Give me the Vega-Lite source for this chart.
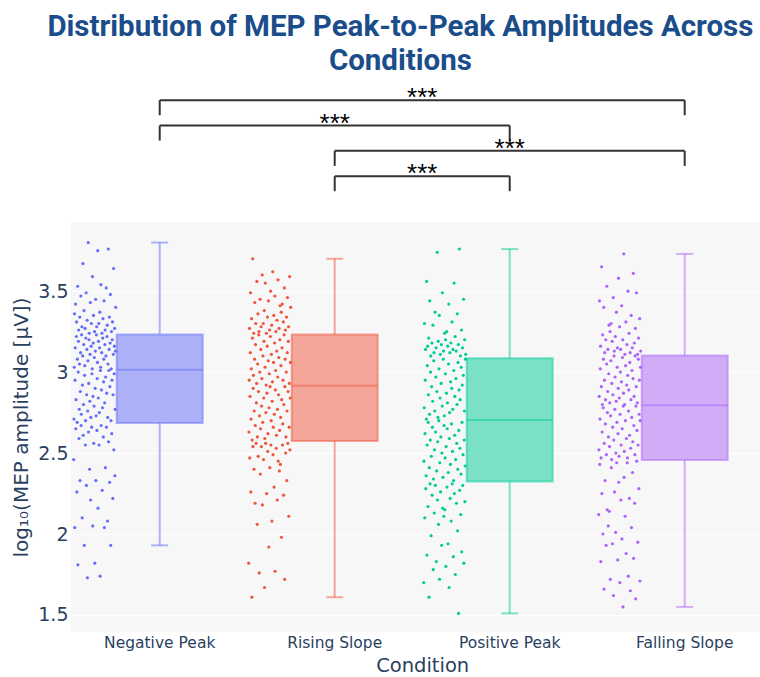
{
"$schema": "https://vega.github.io/schema/vega-lite/v6.json",
"padding": {"left": 11, "top": 11, "right": 0, "bottom": 0},
"title": {"text": ["Distribution of MEP Peak-to-Peak Amplitudes Across", "Conditions"], "font": "Roboto", "fontSize": 29.5, "fontWeight": "bold", "color": "#1a4d8a", "lineHeight": 34, "anchor": "middle", "dx": 9, "offset": 9},
"config": {"view": {"stroke": null}, "font": "DejaVu Sans", "concat": {"spacing": 27}},
"datasets": {
"conditions": [{"cond":"Negative Peak","order":0},{"cond":"Rising Slope","order":1},{"cond":"Positive Peak","order":2},{"cond":"Falling Slope","order":3}],
"brackets": [
{"from":"Negative Peak","to":"Falling Slope","level":1,"label":"***"},
{"from":"Negative Peak","to":"Positive Peak","level":2,"label":"***"},
{"from":"Rising Slope","to":"Falling Slope","level":3,"label":"***"},
{"from":"Rising Slope","to":"Positive Peak","level":4,"label":"***"}],
"trials": [
{"cond":"Negative Peak","val":2.46},{"cond":"Negative Peak","val":2.71},{"cond":"Negative Peak","val":3.03},{"cond":"Negative Peak","val":3.36},
{"cond":"Negative Peak","val":2.04},{"cond":"Negative Peak","val":2.95},{"cond":"Negative Peak","val":3.15},{"cond":"Negative Peak","val":3.42},
{"cond":"Negative Peak","val":2.65},{"cond":"Negative Peak","val":2.83},{"cond":"Negative Peak","val":3.22},{"cond":"Negative Peak","val":3.31},
{"cond":"Negative Peak","val":2.26},{"cond":"Negative Peak","val":2.69},{"cond":"Negative Peak","val":3.08},{"cond":"Negative Peak","val":3.53},
{"cond":"Negative Peak","val":1.81},{"cond":"Negative Peak","val":3.00},{"cond":"Negative Peak","val":3.19},{"cond":"Negative Peak","val":3.26},
{"cond":"Negative Peak","val":2.59},{"cond":"Negative Peak","val":2.77},{"cond":"Negative Peak","val":3.05},{"cond":"Negative Peak","val":3.34},
{"cond":"Negative Peak","val":2.33},{"cond":"Negative Peak","val":2.88},{"cond":"Negative Peak","val":3.12},{"cond":"Negative Peak","val":3.47},
{"cond":"Negative Peak","val":2.67},{"cond":"Negative Peak","val":2.74},{"cond":"Negative Peak","val":3.23},{"cond":"Negative Peak","val":3.28},
{"cond":"Negative Peak","val":2.10},{"cond":"Negative Peak","val":2.92},{"cond":"Negative Peak","val":3.10},{"cond":"Negative Peak","val":3.67},
{"cond":"Negative Peak","val":2.61},{"cond":"Negative Peak","val":2.80},{"cond":"Negative Peak","val":3.17},{"cond":"Negative Peak","val":3.38},
{"cond":"Negative Peak","val":1.93},{"cond":"Negative Peak","val":2.98},{"cond":"Negative Peak","val":3.04},{"cond":"Negative Peak","val":3.27},
{"cond":"Negative Peak","val":2.55},{"cond":"Negative Peak","val":2.70},{"cond":"Negative Peak","val":3.21},{"cond":"Negative Peak","val":3.49},
{"cond":"Negative Peak","val":2.30},{"cond":"Negative Peak","val":2.86},{"cond":"Negative Peak","val":3.14},{"cond":"Negative Peak","val":3.32},
{"cond":"Negative Peak","val":1.73},{"cond":"Negative Peak","val":2.76},{"cond":"Negative Peak","val":3.07},{"cond":"Negative Peak","val":3.80},
{"cond":"Negative Peak","val":2.63},{"cond":"Negative Peak","val":2.93},{"cond":"Negative Peak","val":3.20},{"cond":"Negative Peak","val":3.24},
{"cond":"Negative Peak","val":2.40},{"cond":"Negative Peak","val":2.82},{"cond":"Negative Peak","val":3.11},{"cond":"Negative Peak","val":3.43},
{"cond":"Negative Peak","val":2.21},{"cond":"Negative Peak","val":2.72},{"cond":"Negative Peak","val":3.16},{"cond":"Negative Peak","val":3.30},
{"cond":"Negative Peak","val":2.66},{"cond":"Negative Peak","val":2.99},{"cond":"Negative Peak","val":3.02},{"cond":"Negative Peak","val":3.59},
{"cond":"Negative Peak","val":2.05},{"cond":"Negative Peak","val":2.85},{"cond":"Negative Peak","val":3.18},{"cond":"Negative Peak","val":3.35},
{"cond":"Negative Peak","val":2.56},{"cond":"Negative Peak","val":2.79},{"cond":"Negative Peak","val":3.09},{"cond":"Negative Peak","val":3.25},
{"cond":"Negative Peak","val":1.82},{"cond":"Negative Peak","val":2.90},{"cond":"Negative Peak","val":3.13},{"cond":"Negative Peak","val":3.45},
{"cond":"Negative Peak","val":2.33},{"cond":"Negative Peak","val":2.73},{"cond":"Negative Peak","val":3.23},{"cond":"Negative Peak","val":3.28},
{"cond":"Negative Peak","val":2.64},{"cond":"Negative Peak","val":2.96},{"cond":"Negative Peak","val":3.06},{"cond":"Negative Peak","val":3.75},
{"cond":"Negative Peak","val":2.16},{"cond":"Negative Peak","val":2.84},{"cond":"Negative Peak","val":3.19},{"cond":"Negative Peak","val":3.30},
{"cond":"Negative Peak","val":2.55},{"cond":"Negative Peak","val":2.75},{"cond":"Negative Peak","val":3.15},{"cond":"Negative Peak","val":3.37},
{"cond":"Negative Peak","val":1.74},{"cond":"Negative Peak","val":3.01},{"cond":"Negative Peak","val":3.03},{"cond":"Negative Peak","val":3.54},
{"cond":"Negative Peak","val":2.67},{"cond":"Negative Peak","val":2.89},{"cond":"Negative Peak","val":3.12},{"cond":"Negative Peak","val":3.24},
{"cond":"Negative Peak","val":2.27},{"cond":"Negative Peak","val":2.78},{"cond":"Negative Peak","val":3.21},{"cond":"Negative Peak","val":3.33},
{"cond":"Negative Peak","val":2.60},{"cond":"Negative Peak","val":2.94},{"cond":"Negative Peak","val":3.08},{"cond":"Negative Peak","val":3.44},
{"cond":"Negative Peak","val":2.04},{"cond":"Negative Peak","val":2.81},{"cond":"Negative Peak","val":3.17},{"cond":"Negative Peak","val":3.26},
{"cond":"Negative Peak","val":2.41},{"cond":"Negative Peak","val":2.97},{"cond":"Negative Peak","val":3.10},{"cond":"Negative Peak","val":3.52},
{"cond":"Negative Peak","val":2.66},{"cond":"Negative Peak","val":2.87},{"cond":"Negative Peak","val":3.22},{"cond":"Negative Peak","val":3.29},
{"cond":"Negative Peak","val":2.08},{"cond":"Negative Peak","val":2.72},{"cond":"Negative Peak","val":3.05},{"cond":"Negative Peak","val":3.76},
{"cond":"Negative Peak","val":2.57},{"cond":"Negative Peak","val":3.01},{"cond":"Negative Peak","val":3.14},{"cond":"Negative Peak","val":3.34},
{"cond":"Negative Peak","val":2.32},{"cond":"Negative Peak","val":2.91},{"cond":"Negative Peak","val":3.18},{"cond":"Negative Peak","val":3.48},
{"cond":"Negative Peak","val":1.93},{"cond":"Negative Peak","val":2.70},{"cond":"Negative Peak","val":3.02},{"cond":"Negative Peak","val":3.25},
{"cond":"Negative Peak","val":2.62},{"cond":"Negative Peak","val":2.95},{"cond":"Negative Peak","val":3.20},{"cond":"Negative Peak","val":3.31},
{"cond":"Negative Peak","val":2.22},{"cond":"Negative Peak","val":2.86},{"cond":"Negative Peak","val":3.11},{"cond":"Negative Peak","val":3.64},
{"cond":"Negative Peak","val":2.52},{"cond":"Negative Peak","val":2.99},{"cond":"Negative Peak","val":3.16},{"cond":"Negative Peak","val":3.27},
{"cond":"Negative Peak","val":2.36},{"cond":"Negative Peak","val":2.77},{"cond":"Negative Peak","val":3.13},{"cond":"Negative Peak","val":3.40},
{"cond":"Rising Slope","val":1.82},{"cond":"Rising Slope","val":2.63},{"cond":"Rising Slope","val":2.95},{"cond":"Rising Slope","val":3.27},
{"cond":"Rising Slope","val":2.47},{"cond":"Rising Slope","val":2.85},{"cond":"Rising Slope","val":3.12},{"cond":"Rising Slope","val":3.49},
{"cond":"Rising Slope","val":2.26},{"cond":"Rising Slope","val":2.71},{"cond":"Rising Slope","val":3.02},{"cond":"Rising Slope","val":3.33},
{"cond":"Rising Slope","val":1.61},{"cond":"Rising Slope","val":2.58},{"cond":"Rising Slope","val":3.21},{"cond":"Rising Slope","val":3.70},
{"cond":"Rising Slope","val":2.54},{"cond":"Rising Slope","val":2.90},{"cond":"Rising Slope","val":2.98},{"cond":"Rising Slope","val":3.24},
{"cond":"Rising Slope","val":2.40},{"cond":"Rising Slope","val":2.76},{"cond":"Rising Slope","val":3.08},{"cond":"Rising Slope","val":3.43},
{"cond":"Rising Slope","val":2.19},{"cond":"Rising Slope","val":2.67},{"cond":"Rising Slope","val":3.17},{"cond":"Rising Slope","val":3.30},
{"cond":"Rising Slope","val":2.56},{"cond":"Rising Slope","val":2.81},{"cond":"Rising Slope","val":2.93},{"cond":"Rising Slope","val":3.56},
{"cond":"Rising Slope","val":2.06},{"cond":"Rising Slope","val":2.60},{"cond":"Rising Slope","val":3.05},{"cond":"Rising Slope","val":3.36},
{"cond":"Rising Slope","val":2.48},{"cond":"Rising Slope","val":2.88},{"cond":"Rising Slope","val":3.23},{"cond":"Rising Slope","val":3.25},
{"cond":"Rising Slope","val":1.76},{"cond":"Rising Slope","val":2.73},{"cond":"Rising Slope","val":3.00},{"cond":"Rising Slope","val":3.45},
{"cond":"Rising Slope","val":2.37},{"cond":"Rising Slope","val":2.65},{"cond":"Rising Slope","val":3.14},{"cond":"Rising Slope","val":3.28},
{"cond":"Rising Slope","val":2.54},{"cond":"Rising Slope","val":2.79},{"cond":"Rising Slope","val":2.96},{"cond":"Rising Slope","val":3.60},
{"cond":"Rising Slope","val":2.18},{"cond":"Rising Slope","val":2.69},{"cond":"Rising Slope","val":3.10},{"cond":"Rising Slope","val":3.30},
{"cond":"Rising Slope","val":2.46},{"cond":"Rising Slope","val":2.84},{"cond":"Rising Slope","val":3.19},{"cond":"Rising Slope","val":3.38},
{"cond":"Rising Slope","val":1.67},{"cond":"Rising Slope","val":2.59},{"cond":"Rising Slope","val":3.03},{"cond":"Rising Slope","val":3.55},
{"cond":"Rising Slope","val":2.56},{"cond":"Rising Slope","val":2.75},{"cond":"Rising Slope","val":2.92},{"cond":"Rising Slope","val":3.24},
{"cond":"Rising Slope","val":2.25},{"cond":"Rising Slope","val":2.87},{"cond":"Rising Slope","val":3.16},{"cond":"Rising Slope","val":3.34},
{"cond":"Rising Slope","val":2.51},{"cond":"Rising Slope","val":2.62},{"cond":"Rising Slope","val":3.07},{"cond":"Rising Slope","val":3.44},
{"cond":"Rising Slope","val":1.92},{"cond":"Rising Slope","val":2.78},{"cond":"Rising Slope","val":2.99},{"cond":"Rising Slope","val":3.26},
{"cond":"Rising Slope","val":2.41},{"cond":"Rising Slope","val":2.91},{"cond":"Rising Slope","val":3.22},{"cond":"Rising Slope","val":3.50},
{"cond":"Rising Slope","val":2.55},{"cond":"Rising Slope","val":2.70},{"cond":"Rising Slope","val":3.11},{"cond":"Rising Slope","val":3.29},
{"cond":"Rising Slope","val":2.08},{"cond":"Rising Slope","val":2.82},{"cond":"Rising Slope","val":2.94},{"cond":"Rising Slope","val":3.62},
{"cond":"Rising Slope","val":2.49},{"cond":"Rising Slope","val":2.66},{"cond":"Rising Slope","val":3.06},{"cond":"Rising Slope","val":3.35},
{"cond":"Rising Slope","val":2.29},{"cond":"Rising Slope","val":2.74},{"cond":"Rising Slope","val":3.18},{"cond":"Rising Slope","val":3.47},
{"cond":"Rising Slope","val":1.77},{"cond":"Rising Slope","val":2.89},{"cond":"Rising Slope","val":3.01},{"cond":"Rising Slope","val":3.25},
{"cond":"Rising Slope","val":2.53},{"cond":"Rising Slope","val":2.61},{"cond":"Rising Slope","val":3.13},{"cond":"Rising Slope","val":3.32},
{"cond":"Rising Slope","val":2.21},{"cond":"Rising Slope","val":2.77},{"cond":"Rising Slope","val":2.97},{"cond":"Rising Slope","val":3.57},
{"cond":"Rising Slope","val":2.45},{"cond":"Rising Slope","val":2.86},{"cond":"Rising Slope","val":3.09},{"cond":"Rising Slope","val":3.27},
{"cond":"Rising Slope","val":2.39},{"cond":"Rising Slope","val":2.64},{"cond":"Rising Slope","val":3.20},{"cond":"Rising Slope","val":3.41},
{"cond":"Rising Slope","val":2.43},{"cond":"Rising Slope","val":2.72},{"cond":"Rising Slope","val":3.04},{"cond":"Rising Slope","val":3.37},
{"cond":"Rising Slope","val":1.98},{"cond":"Rising Slope","val":2.83},{"cond":"Rising Slope","val":3.15},{"cond":"Rising Slope","val":3.42},
{"cond":"Rising Slope","val":2.55},{"cond":"Rising Slope","val":2.68},{"cond":"Rising Slope","val":2.95},{"cond":"Rising Slope","val":3.31},
{"cond":"Rising Slope","val":2.24},{"cond":"Rising Slope","val":2.80},{"cond":"Rising Slope","val":3.23},{"cond":"Rising Slope","val":3.52},
{"cond":"Rising Slope","val":1.72},{"cond":"Rising Slope","val":2.91},{"cond":"Rising Slope","val":3.08},{"cond":"Rising Slope","val":3.26},
{"cond":"Rising Slope","val":2.50},{"cond":"Rising Slope","val":2.60},{"cond":"Rising Slope","val":3.00},{"cond":"Rising Slope","val":3.34},
{"cond":"Rising Slope","val":2.33},{"cond":"Rising Slope","val":2.76},{"cond":"Rising Slope","val":3.12},{"cond":"Rising Slope","val":3.46},
{"cond":"Rising Slope","val":2.56},{"cond":"Rising Slope","val":2.88},{"cond":"Rising Slope","val":3.19},{"cond":"Rising Slope","val":3.28},
{"cond":"Rising Slope","val":2.11},{"cond":"Rising Slope","val":2.66},{"cond":"Rising Slope","val":2.93},{"cond":"Rising Slope","val":3.59},
{"cond":"Rising Slope","val":2.52},{"cond":"Rising Slope","val":2.84},{"cond":"Rising Slope","val":3.06},{"cond":"Rising Slope","val":3.40},
{"cond":"Positive Peak","val":1.70},{"cond":"Positive Peak","val":2.45},{"cond":"Positive Peak","val":2.78},{"cond":"Positive Peak","val":3.30},
{"cond":"Positive Peak","val":2.10},{"cond":"Positive Peak","val":2.62},{"cond":"Positive Peak","val":2.95},{"cond":"Positive Peak","val":3.14},
{"cond":"Positive Peak","val":2.28},{"cond":"Positive Peak","val":2.36},{"cond":"Positive Peak","val":2.71},{"cond":"Positive Peak","val":3.56},
{"cond":"Positive Peak","val":1.87},{"cond":"Positive Peak","val":2.55},{"cond":"Positive Peak","val":3.04},{"cond":"Positive Peak","val":3.16},
{"cond":"Positive Peak","val":2.17},{"cond":"Positive Peak","val":2.69},{"cond":"Positive Peak","val":2.86},{"cond":"Positive Peak","val":3.21},
{"cond":"Positive Peak","val":1.61},{"cond":"Positive Peak","val":2.41},{"cond":"Positive Peak","val":2.74},{"cond":"Positive Peak","val":3.44},
{"cond":"Positive Peak","val":2.31},{"cond":"Positive Peak","val":2.58},{"cond":"Positive Peak","val":3.00},{"cond":"Positive Peak","val":3.10},
{"cond":"Positive Peak","val":1.99},{"cond":"Positive Peak","val":2.48},{"cond":"Positive Peak","val":2.91},{"cond":"Positive Peak","val":3.18},
{"cond":"Positive Peak","val":2.24},{"cond":"Positive Peak","val":2.66},{"cond":"Positive Peak","val":2.82},{"cond":"Positive Peak","val":3.29},
{"cond":"Positive Peak","val":1.78},{"cond":"Positive Peak","val":2.34},{"cond":"Positive Peak","val":3.07},{"cond":"Positive Peak","val":3.12},
{"cond":"Positive Peak","val":2.13},{"cond":"Positive Peak","val":2.52},{"cond":"Positive Peak","val":2.76},{"cond":"Positive Peak","val":3.37},
{"cond":"Positive Peak","val":2.30},{"cond":"Positive Peak","val":2.63},{"cond":"Positive Peak","val":2.97},{"cond":"Positive Peak","val":3.15},
{"cond":"Positive Peak","val":1.83},{"cond":"Positive Peak","val":2.39},{"cond":"Positive Peak","val":2.88},{"cond":"Positive Peak","val":3.74},
{"cond":"Positive Peak","val":2.21},{"cond":"Positive Peak","val":2.57},{"cond":"Positive Peak","val":2.72},{"cond":"Positive Peak","val":3.19},
{"cond":"Positive Peak","val":2.06},{"cond":"Positive Peak","val":2.70},{"cond":"Positive Peak","val":3.02},{"cond":"Positive Peak","val":3.35},
{"cond":"Positive Peak","val":1.72},{"cond":"Positive Peak","val":2.44},{"cond":"Positive Peak","val":2.84},{"cond":"Positive Peak","val":3.11},
{"cond":"Positive Peak","val":2.26},{"cond":"Positive Peak","val":2.60},{"cond":"Positive Peak","val":2.93},{"cond":"Positive Peak","val":3.17},
{"cond":"Positive Peak","val":1.93},{"cond":"Positive Peak","val":2.50},{"cond":"Positive Peak","val":2.79},{"cond":"Positive Peak","val":3.49},
{"cond":"Positive Peak","val":2.16},{"cond":"Positive Peak","val":2.35},{"cond":"Positive Peak","val":3.08},{"cond":"Positive Peak","val":3.13},
{"cond":"Positive Peak","val":2.11},{"cond":"Positive Peak","val":2.67},{"cond":"Positive Peak","val":2.73},{"cond":"Positive Peak","val":3.24},
{"cond":"Positive Peak","val":2.15},{"cond":"Positive Peak","val":2.47},{"cond":"Positive Peak","val":2.99},{"cond":"Positive Peak","val":3.20},
{"cond":"Positive Peak","val":1.80},{"cond":"Positive Peak","val":2.54},{"cond":"Positive Peak","val":2.87},{"cond":"Positive Peak","val":3.25},
{"cond":"Positive Peak","val":2.29},{"cond":"Positive Peak","val":2.65},{"cond":"Positive Peak","val":2.81},{"cond":"Positive Peak","val":3.16},
{"cond":"Positive Peak","val":1.94},{"cond":"Positive Peak","val":2.38},{"cond":"Positive Peak","val":3.05},{"cond":"Positive Peak","val":3.42},
{"cond":"Positive Peak","val":1.67},{"cond":"Positive Peak","val":2.59},{"cond":"Positive Peak","val":2.75},{"cond":"Positive Peak","val":3.12},
{"cond":"Positive Peak","val":2.22},{"cond":"Positive Peak","val":2.43},{"cond":"Positive Peak","val":2.94},{"cond":"Positive Peak","val":3.18},
{"cond":"Positive Peak","val":2.08},{"cond":"Positive Peak","val":2.68},{"cond":"Positive Peak","val":2.90},{"cond":"Positive Peak","val":3.31},
{"cond":"Positive Peak","val":2.31},{"cond":"Positive Peak","val":2.51},{"cond":"Positive Peak","val":2.77},{"cond":"Positive Peak","val":3.14},
{"cond":"Positive Peak","val":1.86},{"cond":"Positive Peak","val":2.33},{"cond":"Positive Peak","val":3.01},{"cond":"Positive Peak","val":3.55},
{"cond":"Positive Peak","val":2.25},{"cond":"Positive Peak","val":2.61},{"cond":"Positive Peak","val":2.85},{"cond":"Positive Peak","val":3.22},
{"cond":"Positive Peak","val":1.75},{"cond":"Positive Peak","val":2.46},{"cond":"Positive Peak","val":2.96},{"cond":"Positive Peak","val":3.13},
{"cond":"Positive Peak","val":2.19},{"cond":"Positive Peak","val":2.56},{"cond":"Positive Peak","val":2.80},{"cond":"Positive Peak","val":3.36},
{"cond":"Positive Peak","val":2.02},{"cond":"Positive Peak","val":2.40},{"cond":"Positive Peak","val":3.06},{"cond":"Positive Peak","val":3.17},
{"cond":"Positive Peak","val":1.51},{"cond":"Positive Peak","val":2.64},{"cond":"Positive Peak","val":2.89},{"cond":"Positive Peak","val":3.76},
{"cond":"Positive Peak","val":2.27},{"cond":"Positive Peak","val":2.53},{"cond":"Positive Peak","val":2.83},{"cond":"Positive Peak","val":3.10},
{"cond":"Positive Peak","val":2.12},{"cond":"Positive Peak","val":2.37},{"cond":"Positive Peak","val":3.03},{"cond":"Positive Peak","val":3.26},
{"cond":"Positive Peak","val":1.89},{"cond":"Positive Peak","val":2.69},{"cond":"Positive Peak","val":2.92},{"cond":"Positive Peak","val":3.15},
{"cond":"Positive Peak","val":2.30},{"cond":"Positive Peak","val":2.49},{"cond":"Positive Peak","val":2.98},{"cond":"Positive Peak","val":3.45},
{"cond":"Positive Peak","val":1.82},{"cond":"Positive Peak","val":2.58},{"cond":"Positive Peak","val":2.76},{"cond":"Positive Peak","val":3.20},
{"cond":"Positive Peak","val":2.20},{"cond":"Positive Peak","val":2.42},{"cond":"Positive Peak","val":3.08},{"cond":"Positive Peak","val":3.11},
{"cond":"Falling Slope","val":2.12},{"cond":"Falling Slope","val":2.52},{"cond":"Falling Slope","val":2.85},{"cond":"Falling Slope","val":3.44},
{"cond":"Falling Slope","val":2.43},{"cond":"Falling Slope","val":2.71},{"cond":"Falling Slope","val":3.02},{"cond":"Falling Slope","val":3.16},
{"cond":"Falling Slope","val":1.83},{"cond":"Falling Slope","val":2.47},{"cond":"Falling Slope","val":2.91},{"cond":"Falling Slope","val":3.65},
{"cond":"Falling Slope","val":2.25},{"cond":"Falling Slope","val":2.63},{"cond":"Falling Slope","val":2.80},{"cond":"Falling Slope","val":3.23},
{"cond":"Falling Slope","val":2.00},{"cond":"Falling Slope","val":2.78},{"cond":"Falling Slope","val":3.08},{"cond":"Falling Slope","val":3.40},
{"cond":"Falling Slope","val":1.66},{"cond":"Falling Slope","val":2.56},{"cond":"Falling Slope","val":2.95},{"cond":"Falling Slope","val":3.12},
{"cond":"Falling Slope","val":2.33},{"cond":"Falling Slope","val":2.68},{"cond":"Falling Slope","val":2.83},{"cond":"Falling Slope","val":3.20},
{"cond":"Falling Slope","val":1.93},{"cond":"Falling Slope","val":2.49},{"cond":"Falling Slope","val":3.05},{"cond":"Falling Slope","val":3.53},
{"cond":"Falling Slope","val":2.15},{"cond":"Falling Slope","val":2.75},{"cond":"Falling Slope","val":2.88},{"cond":"Falling Slope","val":3.14},
{"cond":"Falling Slope","val":2.05},{"cond":"Falling Slope","val":2.60},{"cond":"Falling Slope","val":2.99},{"cond":"Falling Slope","val":3.29},
{"cond":"Falling Slope","val":2.14},{"cond":"Falling Slope","val":2.54},{"cond":"Falling Slope","val":2.81},{"cond":"Falling Slope","val":3.25},
{"cond":"Falling Slope","val":1.72},{"cond":"Falling Slope","val":2.73},{"cond":"Falling Slope","val":3.07},{"cond":"Falling Slope","val":3.30},
{"cond":"Falling Slope","val":2.41},{"cond":"Falling Slope","val":2.46},{"cond":"Falling Slope","val":2.93},{"cond":"Falling Slope","val":3.19},
{"cond":"Falling Slope","val":1.94},{"cond":"Falling Slope","val":2.66},{"cond":"Falling Slope","val":2.86},{"cond":"Falling Slope","val":3.46},
{"cond":"Falling Slope","val":1.62},{"cond":"Falling Slope","val":2.58},{"cond":"Falling Slope","val":3.10},{"cond":"Falling Slope","val":3.13},
{"cond":"Falling Slope","val":2.26},{"cond":"Falling Slope","val":2.77},{"cond":"Falling Slope","val":2.97},{"cond":"Falling Slope","val":3.22},
{"cond":"Falling Slope","val":2.01},{"cond":"Falling Slope","val":2.50},{"cond":"Falling Slope","val":2.82},{"cond":"Falling Slope","val":3.37},
{"cond":"Falling Slope","val":2.44},{"cond":"Falling Slope","val":2.69},{"cond":"Falling Slope","val":3.03},{"cond":"Falling Slope","val":3.15},
{"cond":"Falling Slope","val":1.84},{"cond":"Falling Slope","val":2.62},{"cond":"Falling Slope","val":2.90},{"cond":"Falling Slope","val":3.58},
{"cond":"Falling Slope","val":2.32},{"cond":"Falling Slope","val":2.48},{"cond":"Falling Slope","val":2.84},{"cond":"Falling Slope","val":3.28},
{"cond":"Falling Slope","val":1.70},{"cond":"Falling Slope","val":2.74},{"cond":"Falling Slope","val":3.00},{"cond":"Falling Slope","val":3.14},
{"cond":"Falling Slope","val":2.21},{"cond":"Falling Slope","val":2.55},{"cond":"Falling Slope","val":2.94},{"cond":"Falling Slope","val":3.41},
{"cond":"Falling Slope","val":1.97},{"cond":"Falling Slope","val":2.65},{"cond":"Falling Slope","val":3.09},{"cond":"Falling Slope","val":3.20},
{"cond":"Falling Slope","val":1.55},{"cond":"Falling Slope","val":2.79},{"cond":"Falling Slope","val":2.87},{"cond":"Falling Slope","val":3.73},
{"cond":"Falling Slope","val":2.35},{"cond":"Falling Slope","val":2.51},{"cond":"Falling Slope","val":2.80},{"cond":"Falling Slope","val":3.11},
{"cond":"Falling Slope","val":2.11},{"cond":"Falling Slope","val":2.70},{"cond":"Falling Slope","val":3.04},{"cond":"Falling Slope","val":3.31},
{"cond":"Falling Slope","val":1.88},{"cond":"Falling Slope","val":2.59},{"cond":"Falling Slope","val":2.92},{"cond":"Falling Slope","val":3.17},
{"cond":"Falling Slope","val":2.44},{"cond":"Falling Slope","val":2.47},{"cond":"Falling Slope","val":2.98},{"cond":"Falling Slope","val":3.50},
{"cond":"Falling Slope","val":1.74},{"cond":"Falling Slope","val":2.76},{"cond":"Falling Slope","val":2.89},{"cond":"Falling Slope","val":3.24},
{"cond":"Falling Slope","val":2.22},{"cond":"Falling Slope","val":2.61},{"cond":"Falling Slope","val":3.06},{"cond":"Falling Slope","val":3.12},
{"cond":"Falling Slope","val":1.65},{"cond":"Falling Slope","val":2.53},{"cond":"Falling Slope","val":2.83},{"cond":"Falling Slope","val":3.35},
{"cond":"Falling Slope","val":2.04},{"cond":"Falling Slope","val":2.72},{"cond":"Falling Slope","val":3.01},{"cond":"Falling Slope","val":3.15},
{"cond":"Falling Slope","val":2.38},{"cond":"Falling Slope","val":2.57},{"cond":"Falling Slope","val":2.96},{"cond":"Falling Slope","val":3.61},
{"cond":"Falling Slope","val":1.85},{"cond":"Falling Slope","val":2.67},{"cond":"Falling Slope","val":2.85},{"cond":"Falling Slope","val":3.18},
{"cond":"Falling Slope","val":2.19},{"cond":"Falling Slope","val":2.49},{"cond":"Falling Slope","val":3.10},{"cond":"Falling Slope","val":3.27},
{"cond":"Falling Slope","val":1.60},{"cond":"Falling Slope","val":2.79},{"cond":"Falling Slope","val":2.91},{"cond":"Falling Slope","val":3.49},
{"cond":"Falling Slope","val":2.45},{"cond":"Falling Slope","val":2.64},{"cond":"Falling Slope","val":2.81},{"cond":"Falling Slope","val":3.11},
{"cond":"Falling Slope","val":1.95},{"cond":"Falling Slope","val":2.55},{"cond":"Falling Slope","val":3.08},{"cond":"Falling Slope","val":3.21},
{"cond":"Falling Slope","val":2.28},{"cond":"Falling Slope","val":2.74},{"cond":"Falling Slope","val":2.95},{"cond":"Falling Slope","val":3.33},
{"cond":"Falling Slope","val":1.71},{"cond":"Falling Slope","val":2.70},{"cond":"Falling Slope","val":3.03},{"cond":"Falling Slope","val":3.13}
]
},
"vconcat": [
{
"width": 690, "height": 110,
"data": {"name": "brackets"},
"view": {"stroke": null, "fill": null},
"transform": [
{"lookup": "from", "from": {"data": {"name": "conditions"}, "key": "cond", "fields": ["order"]}, "as": ["from_i"]},
{"lookup": "to", "from": {"data": {"name": "conditions"}, "key": "cond", "fields": ["order"]}, "as": ["to_i"]}
],
"encoding": {"y": {"field": "level", "type": "quantitative", "scale": {"domain": [0.4, 4.743], "reverse": true, "nice": false, "zero": false}, "axis": null}},
"layer": [
{"mark": {"type": "rule", "color": "#333333", "strokeWidth": 2},
 "encoding": {"x": {"field": "from_i", "type": "quantitative", "scale": {"domain": [-0.5069, 3.436], "nice": false, "zero": false}, "axis": null}, "x2": {"field": "to_i"}}},
{"transform": [{"fold": ["from_i", "to_i"], "as": ["end", "pos"]}],
 "mark": {"type": "rule", "color": "#333333", "strokeWidth": 2, "y2Offset": 15},
 "encoding": {"x": {"field": "pos", "type": "quantitative", "axis": null}, "y2": {"field": "level"}}},
{"transform": [{"fold": ["from_i", "to_i"], "as": ["end", "pos"]}, {"aggregate": [{"op": "mean", "field": "pos", "as": "mid"}], "groupby": ["level", "label"]}],
 "mark": {"type": "text", "font": "Liberation Sans", "fontSize": 26, "color": "#000000", "baseline": "alphabetic", "dy": 6},
 "encoding": {"x": {"field": "mid", "type": "quantitative", "axis": null}, "text": {"field": "label"}}}
]
},
{
"width": 690, "height": 410,
"data": {"name": "trials"},
"view": {"fill": "#f7f7f7", "stroke": null},
"encoding": {
"x": {"field": "cond", "type": "nominal", "sort": ["Negative Peak", "Rising Slope", "Positive Peak", "Falling Slope"],
 "scale": {"range": [1.2, 701.2], "paddingInner": 0, "paddingOuter": 0},
 "axis": {"title": "Condition", "labelAngle": 0, "ticks": false, "domain": false, "labelFontSize": 15.5, "labelColor": "#2a3f5f", "labelFont": "DejaVu Sans", "labelPadding": 3, "titleFont": "DejaVu Sans", "titleFontSize": 19.5, "titleFontWeight": "normal", "titleColor": "#2a3f5f", "titlePadding": 6}},
"y": {"field": "val", "type": "quantitative", "scale": {"domain": [1.395, 3.927], "nice": false, "zero": false},
 "axis": {"title": "log₁₀(MEP amplitude [μV])", "values": [1.5, 2, 2.5, 3, 3.5], "format": "~g", "ticks": false, "domain": false, "grid": true, "gridColor": "#ffffff", "gridWidth": 1, "labelFontSize": 19, "labelColor": "#2a3f5f", "labelFont": "DejaVu Sans", "labelPadding": 3, "titleFont": "DejaVu Sans", "titleFontSize": 20, "titleFontWeight": "normal", "titleColor": "#2a3f5f", "titlePadding": 6}}
},
"layer": [
{"transform": [{"window": [{"op": "row_number", "as": "trial"}], "groupby": ["cond"]}],
 "mark": {"type": "circle", "size": 10, "opacity": 1},
 "encoding": {
  "xOffset": {"field": "trial", "type": "quantitative", "scale": {"domain": [1, 160], "range": [1.5, 43.5]}},
  "color": {"field": "cond", "type": "nominal", "scale": {"domain": ["Negative Peak", "Rising Slope", "Positive Peak", "Falling Slope"], "range": ["#636EFA", "#EF553B", "#00CC96", "#AB63FA"]}, "legend": null}}},
{"mark": {"type": "boxplot", "extent": 1.5, "size": 86, "outliers": false,
  "box": {"fillOpacity": 0.5, "strokeOpacity": 0.5, "strokeWidth": 2},
  "median": {"thickness": 2, "fillOpacity": 0.5, "strokeOpacity": 0, "opacity": 1},
  "rule": {"strokeWidth": 2, "strokeOpacity": 0.5},
  "ticks": {"size": 17, "thickness": 2, "fillOpacity": 0.5, "strokeOpacity": 0, "opacity": 1}},
 "encoding": {
  "fill": {"field": "cond", "type": "nominal", "scale": {"domain": ["Negative Peak", "Rising Slope", "Positive Peak", "Falling Slope"], "range": ["#636EFA", "#EF553B", "#00CC96", "#AB63FA"]}, "legend": null},
  "stroke": {"field": "cond", "type": "nominal", "scale": {"domain": ["Negative Peak", "Rising Slope", "Positive Peak", "Falling Slope"], "range": ["#636EFA", "#EF553B", "#00CC96", "#AB63FA"]}, "legend": null}}}
]
}
]
}
